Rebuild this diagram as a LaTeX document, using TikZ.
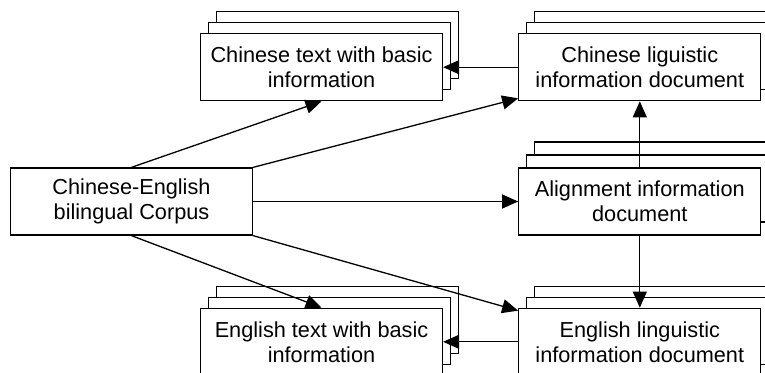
\documentclass[tikz,border=0pt]{standalone}
\usepackage{fontspec}
\setmainfont{Liberation Sans}
\usetikzlibrary{arrows.meta,positioning,shadows}

\begin{document}
\begin{tikzpicture}[
  x=1pt, y=-1pt,
  box/.style={draw=black,line width=1.3pt,fill=white,minimum width=242pt,
              minimum height=67pt,inner sep=0pt,align=center,
              font=\fontsize{21.7}{25}\selectfont},
  stack/.style={box,double copy shadow={shadow xshift=8pt,shadow yshift=#1}},
  stack/.default=11pt,
  arrow/.style={-{Triangle[length=16pt,width=14pt]},line width=1.3pt}
]
  \path[use as bounding box,clip] (0,0) rectangle (765,372);
  \node[box] (corpus) at (131.5,201.5) {Chinese-English\\bilingual Corpus};
  \node[stack=13pt,right=265pt of corpus] (align) {Alignment information\\document};
  \node[stack,above=66pt of align] (cling) {Chinese liguistic\\information document};
  \node[stack,below=72pt of align] (eling) {English linguistic\\information document};
  \node[stack,left=75pt of cling] (ctext) {Chinese text with basic\\information};
  \node[stack,left=75pt of eling] (etext) {English text with basic\\information};
  % from the corpus
  \draw[arrow] (corpus.north) -- (ctext.south);
  \draw[arrow] (corpus.north east) -- ([yshift=3pt]cling.south west);
  \draw[arrow] (corpus.east) -- (align.west);
  \draw[arrow] (corpus.south) -- (etext.north);
  \draw[arrow] (corpus.south east) -- ([yshift=-3pt]eling.north west);
  % between documents
  \draw[arrow] (align.north) -- (cling.south);
  \draw[arrow] (align.south) -- (eling.north);
  \draw[arrow] (cling.west) -- (ctext.east);
  \draw[arrow] (eling.west) -- (etext.east);
\end{tikzpicture}
\end{document}
